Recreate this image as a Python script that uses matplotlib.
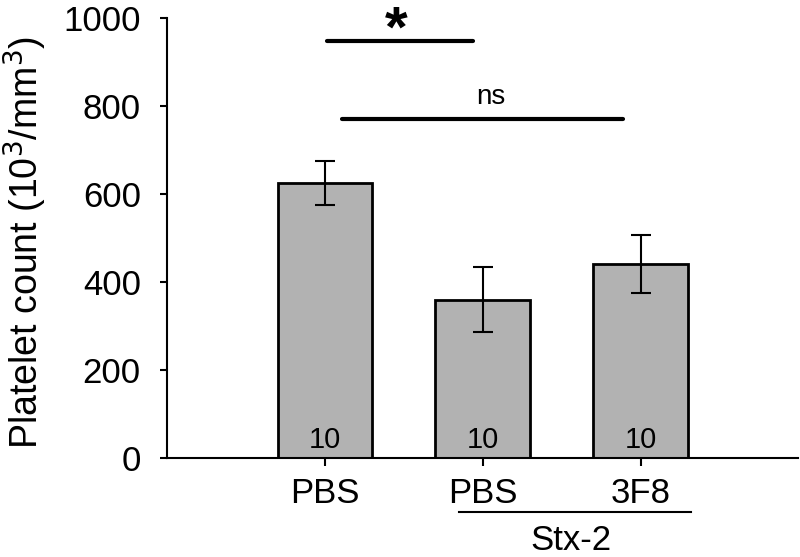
import matplotlib
matplotlib.use("Agg")
import matplotlib.pyplot as plt

plt.rcParams['font.family'] = ['Liberation Sans', 'DejaVu Sans']

# data
groups = ['PBS', 'PBS', '3F8']
means = [625, 360, 441]
errors = [49, 74, 66]
counts = [10, 10, 10]
yticks = [0, 200, 400, 600, 800, 1000]

bar_color = '#b2b2b2'

fig = plt.figure(figsize=(8, 5.57), dpi=100)
ax = fig.add_axes([0.209, 0.1777, 0.789, 0.79])

x = list(range(len(groups)))
ax.bar(x, means, width=0.6, color=bar_color, edgecolor='black', linewidth=2, zorder=2)
ax.errorbar(x, means, yerr=errors, fmt='none', ecolor='black', elinewidth=1.5,
            capsize=7, capthick=1.5, zorder=3)

# n per group inside bars
for xi, n in zip(x, counts):
    ax.text(xi, 40, str(n), ha='center', va='center', fontsize=21)

ax.set_xlim(-1, 3)
ax.set_ylim(0, 1000)
ax.set_yticks(yticks)
ax.set_xticks(x)
ax.set_xticklabels(groups, fontsize=25)
ax.tick_params(axis='y', labelsize=25, length=5, width=1.5, direction='out', pad=14)
ax.tick_params(axis='x', length=6, width=1.5, direction='out', pad=8)
for s in ['top', 'right']:
    ax.spines[s].set_visible(False)
ax.spines['left'].set_linewidth(1.5)
ax.spines['bottom'].set_linewidth(1.5)

ax.set_ylabel('Platelet count (10$^{3}$/mm$^{3}$)', fontsize=27)
ax.yaxis.set_label_coords(-0.188, 0.49)

# significance bars
ax.plot([0.01, 0.94], [948, 948], color='black', lw=3, solid_capstyle='round', clip_on=False)
ax.text(0.45, 935, '*', ha='center', va='baseline', fontsize=42, fontweight='bold')
ax.plot([0.11, 1.89], [770, 770], color='black', lw=3, solid_capstyle='round', clip_on=False)
ax.text(1.05, 790, 'ns', ha='center', va='bottom', fontsize=20)

# treatment grouping below axis
ax.plot([0.85, 2.32], [-122, -122], color='black', lw=1.5, clip_on=False)
ax.text(1.56, -150, 'Stx-2', ha='center', va='top', fontsize=25)

fig.savefig('out.png', dpi=100)
